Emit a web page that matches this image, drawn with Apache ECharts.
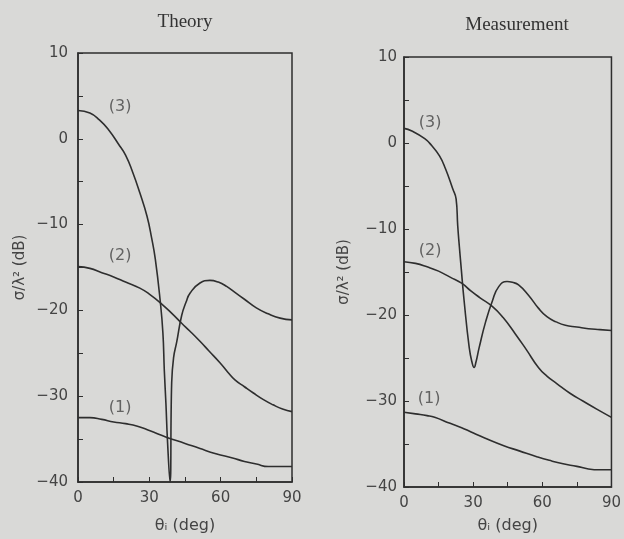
<!DOCTYPE html>
<html lang="en">
<head>
    <meta charset="UTF-8">
    <title>Theory / Measurement</title>
    <script src="https://cdn.jsdelivr.net/npm/echarts@6/dist/echarts.min.js"></script>
    <style>
        html, body { margin: 0; padding: 0; background: #d9d9d7; }
        #main { width: 624px; height: 539px; }
    </style>
</head>
<body>
<div id="main"></div>
<script>
    // Theory panel, angle (deg) and sigma/lambda^2 (dB) per curve
    var thDeg1 = [0, 5, 10, 15, 20, 25, 30, 37.4, 45, 51.3, 58, 65, 70, 75, 80, 85, 90];
    var th1 = [-32.5, -32.5, -32.7, -33.0, -33.2, -33.5, -34.0, -34.8, -35.5, -36.1, -36.7, -37.2, -37.6, -37.9, -38.2, -38.2, -38.2];
    var thDeg2 = [0, 5, 10, 15, 20, 26, 30, 35, 40, 43.6, 47, 51.3, 55, 59.7, 63, 66, 70, 73.6, 78, 82, 86, 90];
    var th2 = [-14.9, -15.1, -15.6, -16.1, -16.7, -17.4, -18.1, -19.2, -20.5, -21.5, -22.4, -23.6, -24.7, -26.1, -27.2, -28.1, -28.9, -29.6, -30.4, -31.0, -31.5, -31.8];
    var thDeg3 = [0, 5, 9, 13, 17, 20, 23, 26, 29, 31, 32.5, 34.5, 35.7, 36.3, 37, 37.6, 38.7, 39.4, 40.2, 41.5, 43.6, 45.5, 47.1, 51.3, 55.5, 59, 62.5, 66, 70, 75, 80, 85, 90];
    var th3 = [3.3, 3.0, 2.2, 1.0, -0.6, -1.9, -3.9, -6.3, -9.0, -11.6, -14.0, -18.7, -22.6, -27.0, -31.0, -35.0, -40.0, -28.4, -25.5, -23.7, -20.6, -19.0, -18.0, -16.8, -16.5, -16.7, -17.2, -17.9, -18.7, -19.7, -20.4, -20.9, -21.1];

    // Measurement panel
    var msDeg1 = [0, 5, 10, 13.3, 20, 25, 29.1, 35, 43.3, 50, 57.9, 63, 69, 75, 80, 85, 90];
    var ms1 = [-31.3, -31.5, -31.7, -31.9, -32.6, -33.1, -33.6, -34.3, -35.2, -35.8, -36.5, -36.9, -37.3, -37.6, -37.9, -38.0, -38.0];
    var msDeg2 = [0, 5, 10, 15, 20, 25, 29, 33, 38.3, 43, 48.3, 53, 58.3, 62, 66.4, 72, 77.6, 84, 90];
    var ms2 = [-13.8, -14.0, -14.4, -14.9, -15.6, -16.3, -17.2, -18.0, -19.0, -20.3, -22.2, -24.0, -26.1, -27.1, -28.0, -29.1, -30.0, -31.0, -31.9];
    var msDeg3 = [0, 3.4, 9, 12, 15.4, 18, 21.1, 22.6, 23.3, 24, 24.7, 26.1, 28.3, 29.5, 30.4, 31.2, 32.6, 35.4, 38.3, 41.1, 44.7, 47, 49.7, 54, 58.3, 62, 66, 70, 75, 80, 85, 90];
    var ms3 = [1.7, 1.4, 0.5, -0.3, -1.5, -3.0, -5.3, -6.5, -9.6, -12.0, -14.2, -18.4, -23.8, -25.5, -26.1, -25.5, -23.8, -20.8, -18.4, -16.7, -16.1, -16.2, -16.5, -17.7, -19.2, -20.2, -20.8, -21.2, -21.4, -21.6, -21.7, -21.8];

    // curve tags: [deg, dB, text]
    var thTags = [[17.7, 3.7, '(3)'], [17.7, -13.6, '(2)'], [17.7, -31.3, '(1)']];
    var msTags = [[11.3, 2.3, '(3)'], [11.3, -12.5, '(2)'], [10.9, -29.8, '(1)']];

    var xTicks = [0, 30, 60, 90];
    var yTicks = [-40, -30, -20, -10, 0, 10];

    function pairs(xs, ys) {
        return xs.map(function (x, i) { return [x, ys[i]]; });
    }

    var ink = '#2e2e2e';
    var txt = '#444';
    var sans = 'DejaVu Sans';

    function xAx(idx, gap) {
        return {
            gridIndex: idx, type: 'value', min: xTicks[0], max: xTicks[xTicks.length - 1], interval: 30,
            name: 'θᵢ (deg)', nameLocation: 'middle', nameGap: gap,
            nameTextStyle: { color: txt, fontFamily: sans, fontSize: 16 },
            axisLine: { onZero: false, lineStyle: { color: ink, width: 1.5 } },
            axisTick: { inside: true, length: 5, lineStyle: { color: ink } },
            minorTick: { show: true, splitNumber: 2, length: 5, lineStyle: { color: ink } },
            axisLabel: { color: txt, fontFamily: sans, fontSize: 15, margin: 9 },
            splitLine: { show: false }
        };
    }
    function yAx(idx, gap, margin) {
        return {
            gridIndex: idx, type: 'value', min: yTicks[0], max: yTicks[yTicks.length - 1], interval: 10,
            name: 'σ/λ² (dB)', nameLocation: 'middle', nameGap: gap,
            nameTextStyle: { color: txt, fontFamily: sans, fontSize: 15 },
            axisLine: { onZero: false, lineStyle: { color: ink, width: 1.5 } },
            axisTick: { inside: true, length: 5, lineStyle: { color: ink } },
            minorTick: { show: true, splitNumber: 2, length: 5, lineStyle: { color: ink } },
            axisLabel: {
                color: txt, fontFamily: sans, fontSize: 15, margin: margin,
                formatter: function (v) { return String(v).replace('-', '−'); }
            },
            splitLine: { show: false }
        };
    }
    function curve(idx, data) {
        return {
            type: 'line', xAxisIndex: idx, yAxisIndex: idx, data: data,
            showSymbol: false, smooth: 0.5,
            lineStyle: { color: ink, width: 1.6 }, silent: true
        };
    }
    function tags(idx, data) {
        return {
            type: 'scatter', xAxisIndex: idx, yAxisIndex: idx, data: data,
            symbolSize: 1, itemStyle: { color: 'transparent' }, silent: true,
            label: {
                show: true, position: 'inside', color: txt, fontFamily: sans, fontSize: 16,
                formatter: function (p) { return p.data[2]; }
            }
        };
    }

    var myChart = echarts.init(document.getElementById('main'));
    var option = {
        backgroundColor: '#d9d9d7',
        animation: false,
        graphic: [
            { type: 'text', x: 185, y: 22, style: { text: 'Theory', fill: '#333', font: '19px "Liberation Serif"', textAlign: 'center', textVerticalAlign: 'middle' } },
            { type: 'text', x: 517, y: 25, style: { text: 'Measurement', fill: '#333', font: '19px "Liberation Serif"', textAlign: 'center', textVerticalAlign: 'middle' } }
        ],
        grid: [
            { left: 78, top: 53, width: 214, height: 432, show: true, borderColor: ink, borderWidth: 1.5, backgroundColor: 'transparent' },
            { left: 404, top: 57, width: 210, height: 433, show: true, borderColor: ink, borderWidth: 1.5, backgroundColor: 'transparent' }
        ],
        xAxis: [xAx(0, 36), xAx(1, 31)],
        yAxis: [yAx(0, 50, 10), yAx(1, 52, 7)],
        series: [
            curve(0, pairs(thDeg1, th1)),
            curve(0, pairs(thDeg2, th2)),
            curve(0, pairs(thDeg3, th3)),
            tags(0, thTags),
            curve(1, pairs(msDeg1, ms1)),
            curve(1, pairs(msDeg2, ms2)),
            curve(1, pairs(msDeg3, ms3)),
            tags(1, msTags)
        ]
    };
    myChart.setOption(option);
</script>
</body>
</html>
